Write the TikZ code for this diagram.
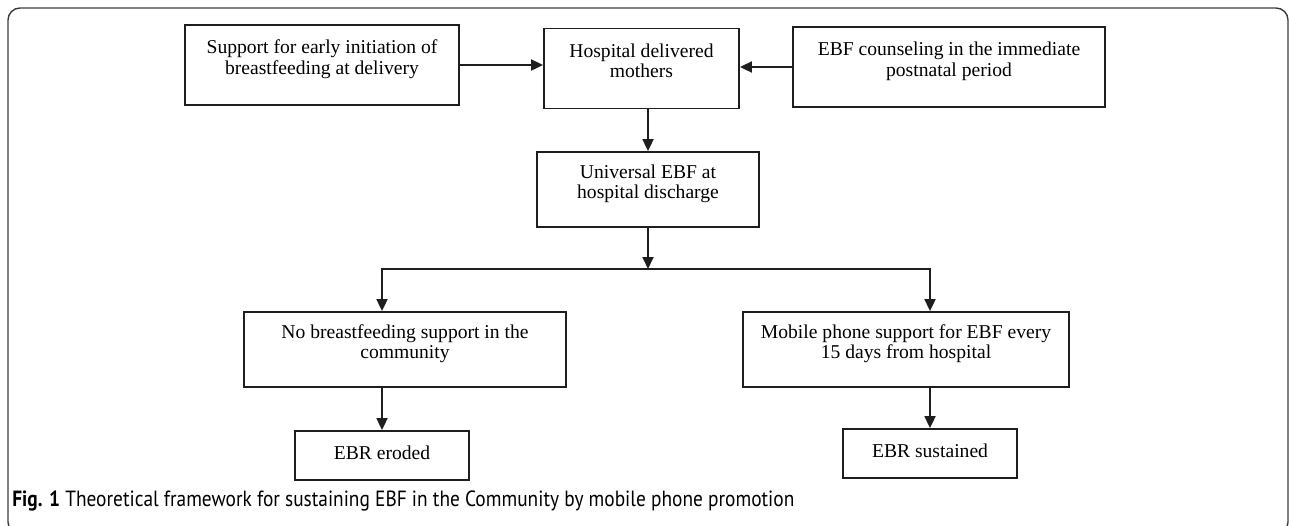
\documentclass[tikz,border=0pt]{standalone}
\usepackage{fontspec}
\setmainfont{Liberation Serif}
\newfontfamily\tfcapfont[FakeStretch=0.88]{PT Sans}
\usetikzlibrary{arrows.meta,positioning,calc}
\definecolor{tfink}  {HTML}{1E1E1E}
\definecolor{tfframe}{HTML}{3C3C3C}
\tikzset{
  tfnode/.style={draw=tfink, line width=0.9pt, fill=white, align=center,
                 inner sep=2pt, font=\fontsize{9.8}{10.2}\selectfont},
  tftall/.style={tfnode, minimum height=40pt, text depth=8pt},
  tfmid/.style={tfnode, minimum height=37.5pt, text depth=8pt},
  tflow/.style={tfnode, minimum height=24.5pt, minimum width=87pt, text depth=3pt},
  tfedge/.style={-{Triangle[length=6pt,width=5.5pt]}, draw=tfink, line width=0.9pt},
  tfcap/.style={font=\tfcapfont\fontsize{11}{12}\selectfont, anchor=west, inner sep=0pt},
}
\begin{document}
\begin{tikzpicture}[x=0.5pt, y=-0.5pt]
  \useasboundingbox (0,0) rectangle (1290,525);
  \clip (0,0) rectangle (1290,525);
  \draw[tfframe, line width=0.7pt, rounded corners=6pt] (8,8) rectangle (1288,534);

  % top row
  \node[tftall, minimum width=137pt] (SU) at (322,65)    {Support for early initiation of\\breastfeeding at delivery};
  \node[tftall, minimum width=97.5pt] (HD) at (641.5,68.5) {Hospital delivered\\mothers};
  \node[tftall, minimum width=156pt] (EC) at (949,67)    {EBF counseling in the immediate\\postnatal period};
  \node[tfmid, minimum width=111pt] (UE) at (648,189.5) {Universal EBF at\\hospital discharge};

  % two arms
  \node[tfmid, minimum width=161pt] (NB) at (405,349.5) {No breastfeeding support in the\\community};
  \node[tfmid, minimum width=163pt] (MP) at (906,349.5) {Mobile phone support for EBF every\\15 days from hospital};
  \node[tflow] (ER) at (382,455.5) {EBR eroded};
  \node[tflow] (ES) at (930,453.5) {EBR sustained};

  \coordinate (split) at (648,269);

  \draw[tfedge] (SU.east) -- (SU.east -| HD.west);
  \draw[tfedge] (EC.west) -- (EC.west -| HD.east);
  \draw[tfedge] (HD.south -| UE.north) -- (UE.north);
  \draw[tfedge] (UE.south) -- (split);
  \draw[tfedge] (split) -| (ER.north |- NB.north);
  \draw[tfedge] (split) -| (ES.north |- MP.north);
  \draw[tfedge] (NB.south -| ER.north) -- (ER.north);
  \draw[tfedge] (MP.south -| ES.north) -- (ES.north);

  \node[tfcap] (cap) at (12,501) {\textbf{Fig. 1} Theoretical framework for sustaining EBF in the Community by mobile phone promotion};
\end{tikzpicture}
\end{document}
